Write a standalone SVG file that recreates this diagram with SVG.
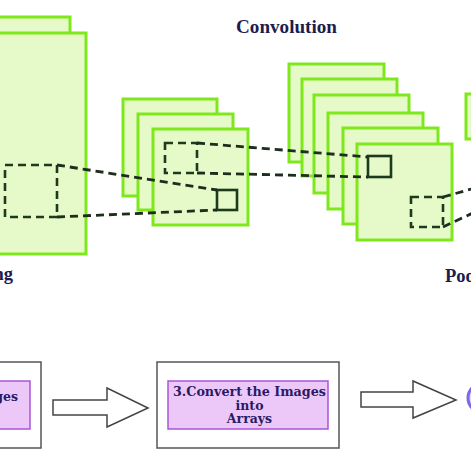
<svg xmlns="http://www.w3.org/2000/svg" width="471" height="471" viewBox="0 0 471 471">
<style>
.fm{fill:#e6f9c9;stroke:#7fe81c;stroke-width:3}
.dsq{fill:none;stroke:#1d3a1d;stroke-width:2.6;stroke-dasharray:8,5}
.ssq{fill:none;stroke:#1d3a1d;stroke-width:2.6}
.dl{fill:none;stroke:#1d2e1d;stroke-width:2.8;stroke-dasharray:8,5}
.lbl{font-family:"Liberation Serif","Times New Roman",serif;font-weight:bold;font-size:18.5px;fill:#1c1c4e}
.box{fill:#fff;stroke:#555;stroke-width:1.5}
.inn{fill:#ecc8f8;stroke:#a855d8;stroke-width:1.5}
.bt{font-family:"DejaVu Serif",serif;font-weight:bold;font-size:12.5px;fill:#2a1a66;text-anchor:middle}
.arr{fill:#fff;stroke:#444;stroke-width:1.5;stroke-linejoin:miter}
</style>
<rect width="471" height="471" fill="#fff"/>
<g id="input-stack">
<rect class="fm" x="-10" y="17" width="80" height="220"/>
<rect class="fm" x="-10" y="33" width="96" height="221"/>
<rect class="dsq" x="5" y="165" width="52" height="52"/>
</g>
<g id="conv1-stack">
<rect class="fm" x="123" y="99" width="94" height="97"/>
<rect class="fm" x="138" y="114" width="95" height="96"/>
<rect class="fm" x="153" y="129" width="95" height="96"/>
<rect class="dsq" x="165" y="143" width="32" height="30"/>
<rect class="ssq" x="217" y="190" width="20" height="20"/>
</g>
<g id="conv2-stack">
<rect class="fm" x="289" y="64" width="95" height="98"/>
<rect class="fm" x="302" y="79" width="95" height="97"/>
<rect class="fm" x="314" y="95" width="95" height="98"/>
<rect class="fm" x="328" y="113" width="95" height="96"/>
<rect class="fm" x="343" y="128" width="95" height="96"/>
<rect class="fm" x="357" y="144" width="95" height="96"/>
<rect class="ssq" x="368" y="156" width="23" height="21"/>
<rect class="dsq" x="411" y="197" width="32" height="30"/>
</g>
<g id="pool-stack">
<rect class="fm" x="466" y="94" width="30" height="45"/>
</g>
<g id="labels">
<text class="lbl" x="286.5" y="33" text-anchor="middle" textLength="101" lengthAdjust="spacingAndGlyphs">Convolution</text>
<text class="lbl" x="13" y="280" text-anchor="end">ng</text>
<text class="lbl" x="445" y="282">Pooling</text>
</g>
<g id="step2">
<rect class="box" x="-20" y="362" width="61" height="86"/>
<rect class="inn" x="-20" y="381" width="50" height="48"/>
<text class="bt" x="18" y="401" style="text-anchor:end">ges</text>
</g>
<g id="step3">
<rect class="box" x="157" y="362" width="182" height="86"/>
<rect class="inn" x="168" y="381" width="160" height="48"/>
<text class="bt" x="249.5" y="396" textLength="153" lengthAdjust="spacingAndGlyphs">3.Convert the Images</text>
<text class="bt" x="249.5" y="409.5">into</text>
<text class="bt" x="249.5" y="423">Arrays</text>
</g>
<g id="step4">
<ellipse cx="486" cy="398" rx="18" ry="16" fill="#e2dcff" stroke="#7a68e6" stroke-width="3"/>
</g>
<g id="connectors">
<polyline class="dl" points="57,165 217,190"/>
<polyline class="dl" points="57,217 217,210"/>
<polyline class="dl" points="197,143 368,157"/>
<polyline class="dl" points="197,173 368,177"/>
<polyline class="dl" points="443,197 475,188"/>
<polyline class="dl" points="443,227 475,212"/>
<path class="arr" d="M53,400 H107 V388 L148,408 L107,427 V415 H53 Z"/>
<path class="arr" d="M361,392 H413 V381 L456,400 L413,418 V407 H361 Z"/>
</g>
</svg>
